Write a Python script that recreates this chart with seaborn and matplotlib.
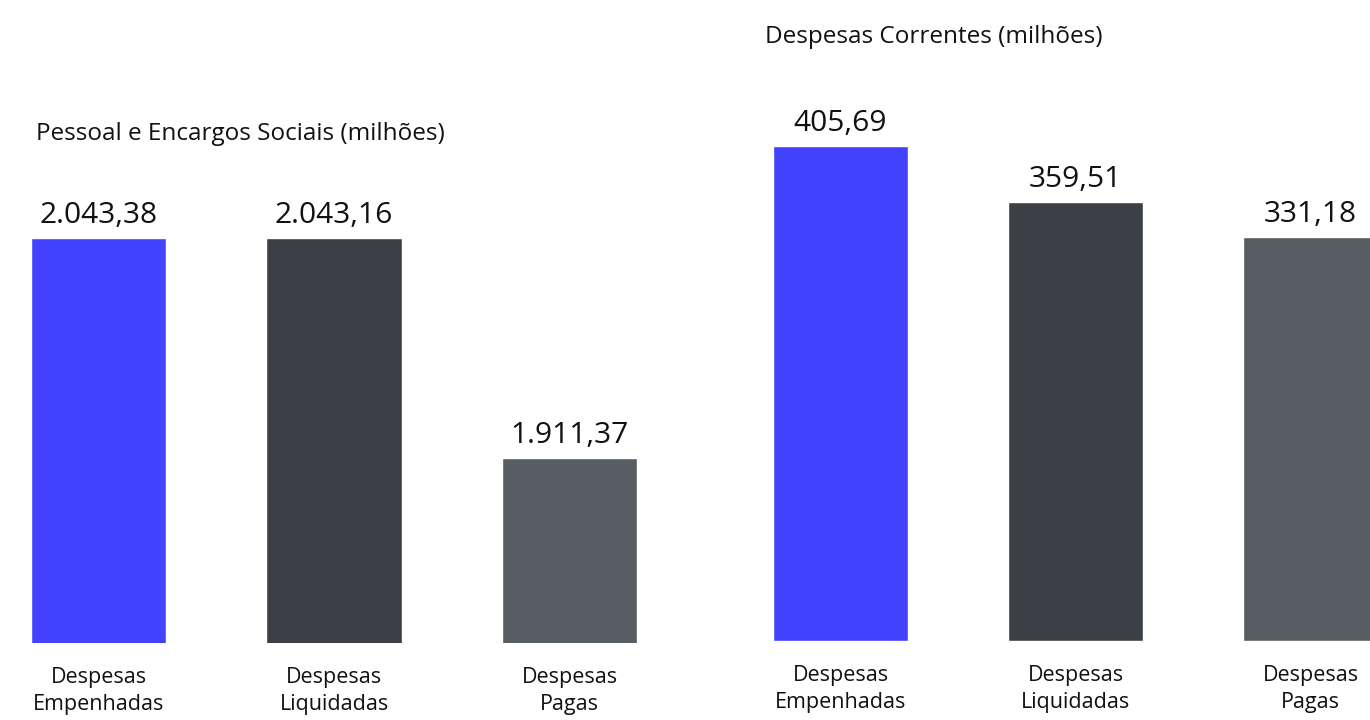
import matplotlib
matplotlib.use("Agg")
import matplotlib.pyplot as plt
import seaborn as sns
import pandas as pd

# dados
categorias = ["Despesas\nEmpenhadas", "Despesas\nLiquidadas", "Despesas\nPagas"]
pessoal = [2043.38, 2043.16, 1911.37]
correntes = [405.69, 359.51, 331.18]
cores = ["#4343FF", "#3C4044", "#565D63"]

titulo_pessoal = "Pessoal e Encargos Sociais (milhões)"
titulo_correntes = "Despesas Correntes (milhões)"

sns.set_style("white")
plt.rcParams["font.family"] = ["Open Sans", "DejaVu Sans"]

W, H = 1370, 720


def fmt_br(v):
    s = f"{v:,.2f}"
    return s.replace(",", "X").replace(".", ",").replace("X", ".")


def painel(ax, valores, base, topo, xlim):
    df = pd.DataFrame({"cat": categorias, "val": valores})
    sns.barplot(data=df, x="cat", y="val", hue="cat", palette=cores,
                width=0.574, legend=False, ax=ax, saturation=1)
    ax.set_ylim(base, topo)
    ax.set_xlim(*xlim)
    for c in ax.containers:
        ax.bar_label(c, labels=[fmt_br(v) for v in c.datavalues],
                     padding=6, fontsize=21.5, color="#111111")
    ax.set_xlabel("")
    ax.set_ylabel("")
    ax.set_yticks([])
    ax.tick_params(axis="x", length=0, pad=17, labelsize=15.5, labelcolor="#111111")
    for t in ax.get_xticklabels():
        t.set_linespacing(1.4)
    sns.despine(ax=ax, left=True, bottom=True)


fig = plt.figure(figsize=(W / 100, H / 100), dpi=100)

# painel esquerdo: eixo y começa em ~1800
ax1 = fig.add_axes([0 / W, (H - 643) / H, 700 / W, (643 - 100) / H])
painel(ax1, pessoal, 1800.36, 1800.36 + 543 / 1.6665,
       ((0 - 98.5) / 235.5, (700 - 98.5) / 235.5))

# painel direito
ax2 = fig.add_axes([740 / W, (H - 641) / H, 630 / W, (641 - 20) / H])
painel(ax2, correntes, 0, 621 / 1.22,
       ((740 - 840.5) / 235, (1370 - 840.5) / 235))

fig.text(36 / W, 1 - 134 / H, titulo_pessoal, fontsize=17.5, va="center", color="#111111")
fig.text(765 / W, 1 - 37 / H, titulo_correntes, fontsize=17.5, va="center", color="#111111")

fig.savefig("out.png", dpi=100)
